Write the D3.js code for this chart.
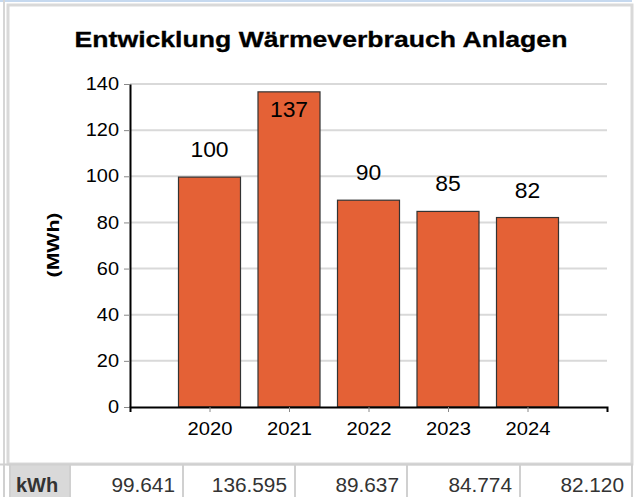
<!DOCTYPE html>
<html>
<head>
<meta charset="utf-8">
<script src="https://cdn.jsdelivr.net/npm/d3@7"></script>
<style>
  body { margin: 0; background: #fff; }
  svg { display: block; font-family: "Liberation Sans", Arial, sans-serif; }
</style>
</head>
<body>
<svg id="chart"></svg>
<script>
// chart data
var years = ["2020", "2021", "2022", "2023", "2024"];
var mwh = [99.641, 136.595, 89.637, 84.774, 82.12];
var barLabels = ["100", "137", "90", "85", "82"];
var tableValues = ["99.641", "136.595", "89.637", "84.774", "82.120"];
var yTicks = [0, 20, 40, 60, 80, 100, 120, 140];

var W = 637, H = 497;
var svg = d3.select("#chart").attr("width", W).attr("height", H);

// the source renders its text a bit wider than it is tall
function stretch(sel, sx) {
  sel.attr("transform", function () {
    var t = d3.select(this);
    var x = +t.attr("x") || 0, y = +t.attr("y") || 0;
    return "translate(" + x + "," + y + ") scale(" + sx + ",1) translate(" + (-x) + "," + (-y) + ")";
  });
}

// page frame around the chart
svg.append("rect").attr("x", 0).attr("y", 0).attr("width", 632).attr("height", 2).attr("fill", "#c6d9ef");
svg.append("rect").attr("x", 3).attr("y", 0).attr("width", 2).attr("height", 465).attr("fill", "#d6d6d6");
svg.append("rect").attr("x", 8).attr("y", 5).attr("width", 624).attr("height", 459)
  .attr("fill", "#fff").attr("stroke", "#d9d9d9").attr("stroke-width", 3);

var margin = { left: 130, right: 30, top: 84, bottom: 90 };
var plotW = 607 - margin.left;
var plotBottom = 407;

var x = d3.scalePoint().domain(years).range([margin.left, margin.left + plotW]).padding(1);
var y = d3.scaleLinear().domain([0, 140]).range([plotBottom, margin.top]);
var barW = x.step() * 0.78;

// title
svg.append("text")
  .attr("x", 321).attr("y", 47)
  .attr("text-anchor", "middle")
  .attr("font-size", 22).attr("font-weight", "bold")
  .attr("stroke", "#000").attr("stroke-width", 0.3)
  .text("Entwicklung Wärmeverbrauch Anlagen")
  .call(stretch, 1.21);

// gridlines
svg.append("g").selectAll("line").data(yTicks.slice(1)).enter().append("line")
  .attr("x1", margin.left).attr("x2", margin.left + plotW)
  .attr("y1", function (d) { return y(d); })
  .attr("y2", function (d) { return y(d); })
  .attr("stroke", "#d9d9d9").attr("stroke-width", 2);

// bars
svg.append("g").selectAll("rect").data(mwh).enter().append("rect")
  .attr("x", function (d, i) { return x(years[i]) - barW / 2; })
  .attr("y", function (d) { return y(d); })
  .attr("width", barW)
  .attr("height", function (d) { return plotBottom - y(d); })
  .attr("fill", "#e46136").attr("stroke", "#333").attr("stroke-width", 1.2);

// value labels, moved inside when there is no room above
svg.append("g").selectAll("text").data(mwh).enter().append("text")
  .attr("x", function (d, i) { return x(years[i]); })
  .attr("y", function (d) {
    var top = y(d);
    return top - 20 < margin.top ? top + 25 : top - 20;
  })
  .attr("text-anchor", "middle").attr("font-size", 22).attr("fill", "#000")
  .text(function (d, i) { return barLabels[i]; })
  .call(stretch, 1.04);

// axes
var yAxis = svg.append("g").attr("transform", "translate(" + margin.left + ",0)")
  .call(d3.axisLeft(y).tickValues(yTicks).tickSize(6).tickSizeOuter(0).tickPadding(5));
yAxis.select(".domain").attr("stroke", "#000").attr("stroke-width", 2);
yAxis.selectAll(".tick line").attr("stroke", "#888");
yAxis.selectAll(".tick text").attr("font-size", 17.5).attr("fill", "#000").attr("font-family", null)
  .call(stretch, 1.14);

var xAxis = svg.append("g").attr("transform", "translate(0," + plotBottom + ")")
  .call(d3.axisBottom(x).tickSize(5).tickSizeOuter(5).tickPadding(10));
xAxis.select(".domain").attr("stroke", "#000").attr("stroke-width", 2);
xAxis.selectAll(".tick line").attr("stroke", "#888");
xAxis.selectAll(".tick text").attr("font-size", 18.5).attr("fill", "#000").attr("font-family", null)
  .call(stretch, 1.09);

// y axis title
svg.append("text")
  .attr("transform", "translate(59,245) rotate(-90) scale(1.25,1)")
  .attr("text-anchor", "middle")
  .attr("font-size", 17).attr("font-weight", "bold")
  .text("(MWh)");

// data table row below the chart
var rowY = 465;
var cellEdges = [70, 183, 295, 407, 520, 632];
svg.append("rect").attr("x", 10).attr("y", rowY).attr("width", 60).attr("height", 40).attr("fill", "#d9d9d9");
svg.append("line").attr("x1", 0).attr("x2", 633).attr("y1", rowY - 0.5).attr("y2", rowY - 0.5)
  .attr("stroke", "#d0d0d0").attr("stroke-width", 2);
svg.append("g").selectAll("line").data([4, 10].concat(cellEdges)).enter().append("line")
  .attr("x1", function (d) { return d; }).attr("x2", function (d) { return d; })
  .attr("y1", rowY).attr("y2", H)
  .attr("stroke", "#d0d0d0").attr("stroke-width", 2);
svg.append("text").attr("x", 16).attr("y", 492)
  .attr("font-size", 20).attr("font-weight", "bold").attr("fill", "#333").text("kWh");
svg.append("g").selectAll("text").data(tableValues).enter().append("text")
  .attr("x", function (d, i) { return cellEdges[i + 1] - 8; })
  .attr("y", 492)
  .attr("text-anchor", "end").attr("font-size", 20).attr("fill", "#333")
  .text(function (d) { return d; })
  .call(stretch, 1.04);
</script>
</body>
</html>
